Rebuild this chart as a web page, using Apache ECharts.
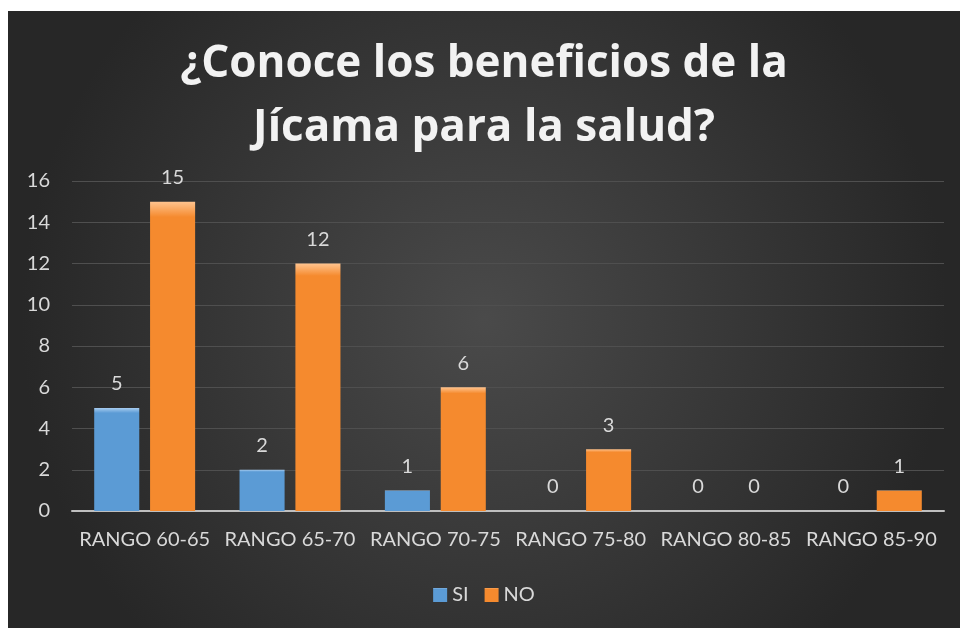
<!DOCTYPE html>
<html>
<head>
<meta charset="utf-8">
<script src="https://cdn.jsdelivr.net/npm/echarts@6/dist/echarts.min.js"></script>
<style>
  html, body { margin: 0; padding: 0; background: #ffffff; }
  #chart { position: absolute; left: 8px; top: 11px; width: 952px; height: 617px; }
</style>
</head>
<body>
<div id="chart"></div>
<script>
// datos
const categorias = ['RANGO 60-65', 'RANGO 65-70', 'RANGO 70-75', 'RANGO 75-80', 'RANGO 80-85', 'RANGO 85-90'];
const valoresSi = [5, 2, 1, 0, 0, 0];
const valoresNo = [15, 12, 6, 3, 0, 1];
const ticksY = [0, 2, 4, 6, 8, 10, 12, 14, 16];

const font = 'Lato, "Open Sans", sans-serif';

function barColor(light, base) {
    return new echarts.graphic.LinearGradient(0, 0, 0, 1, [
        { offset: 0, color: light },
        { offset: 0.05, color: base },
        { offset: 1, color: base }
    ]);
}

const chart = echarts.init(document.getElementById('chart'));

chart.setOption({
    backgroundColor: new echarts.graphic.RadialGradient(0.5, 0.5, 0.75, [
        { offset: 0, color: '#4a4a4a' },
        { offset: 1, color: '#272727' }
    ]),
    title: {
        text: '¿Conoce los beneficios de la\nJícama para la salud?',
        left: 'center',
        top: 16,
        textStyle: {
            color: '#f2f2f2',
            fontFamily: '"Open Sans", sans-serif',
            fontWeight: 'bold',
            fontSize: 44,
            lineHeight: 64
        }
    },
    legend: {
        bottom: 18,
        left: 'center',
        itemWidth: 14,
        itemHeight: 14,
        itemGap: 16,
        icon: 'rect',
        textStyle: { color: '#d9d9d9', fontFamily: font, fontSize: 20 },
        data: ['SI', 'NO']
    },
    grid: { left: 64, right: 16, top: 170, bottom: 117, containLabel: false },
    xAxis: {
        type: 'category',
        data: categorias,
        axisTick: { show: false },
        axisLine: { lineStyle: { color: '#bfbfbf', width: 2 } },
        axisLabel: { color: '#d9d9d9', fontFamily: font, fontSize: 20, margin: 19, interval: 0 }
    },
    yAxis: {
        type: 'value',
        min: ticksY[0],
        max: ticksY[ticksY.length - 1],
        interval: 2,
        axisLine: { show: false },
        axisTick: { show: false },
        axisLabel: { color: '#d9d9d9', fontFamily: font, fontSize: 20, margin: 22 },
        splitLine: { lineStyle: { color: '#4f4f4f', width: 1 } }
    },
    series: [
        {
            name: 'SI',
            type: 'bar',
            data: valoresSi,
            barWidth: '31%',
            barGap: '24%',
            itemStyle: { color: barColor('#a9cdf0', '#5b9bd5') },
            label: { show: true, position: 'top', distance: 14, color: '#d9d9d9', fontFamily: font, fontSize: 20 }
        },
        {
            name: 'NO',
            type: 'bar',
            data: valoresNo,
            barWidth: '31%',
            itemStyle: { color: barColor('#ffc48f', '#f58a2e') },
            label: { show: true, position: 'top', distance: 14, color: '#d9d9d9', fontFamily: font, fontSize: 20 }
        }
    ]
});
</script>
</body>
</html>
